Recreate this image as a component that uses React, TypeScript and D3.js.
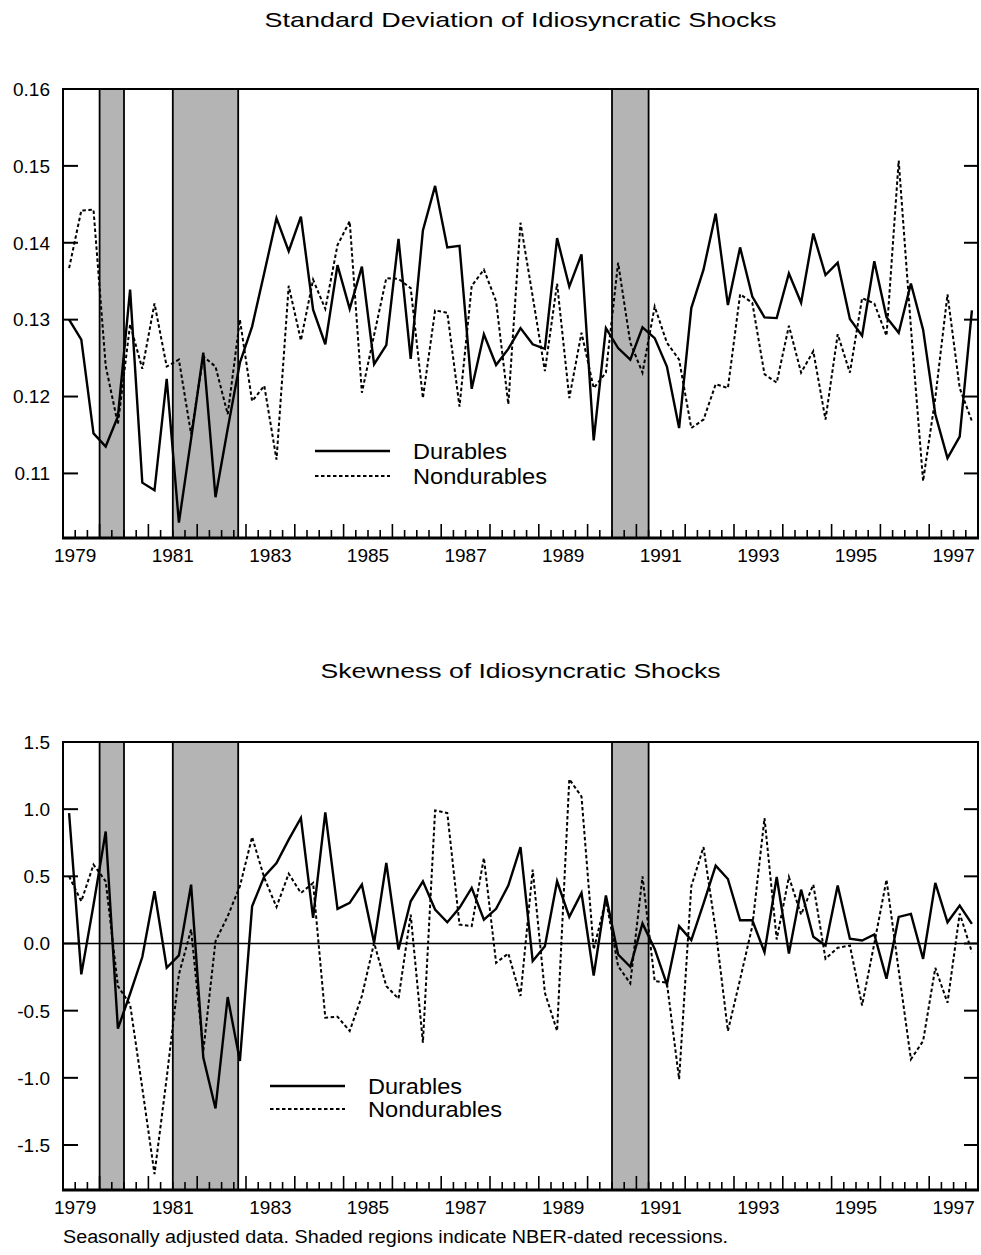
import React from 'react';
import * as d3 from 'd3';

// ---- Data (quarterly, 1979Q2 .. 1997Q4) ----
const FIRST_YEAR = 1979;
const FIRST_QUARTER = 2;

const sdDurables = [
  0.1300, 0.1274, 0.1152, 0.1135, 0.1174, 0.1339, 0.1088, 0.1078, 0.1223, 0.1036,
  0.1145, 0.1257, 0.1069, 0.1158, 0.1244, 0.1291, 0.1361, 0.1432, 0.1389, 0.1434,
  0.1313, 0.1268, 0.1371, 0.1314, 0.1369, 0.1242, 0.1267, 0.1405, 0.1249, 0.1416,
  0.1474, 0.1394, 0.1396, 0.1210, 0.1281, 0.1241, 0.1262, 0.1289, 0.1268, 0.1262,
  0.1406, 0.1343, 0.1385, 0.1143, 0.1289, 0.1263, 0.1248, 0.1290, 0.1276, 0.1239,
  0.1159, 0.1315, 0.1365, 0.1438, 0.1319, 0.1394, 0.1330, 0.1303, 0.1302, 0.1360,
  0.1322, 0.1412, 0.1358, 0.1374, 0.1301, 0.1279, 0.1376, 0.1303, 0.1283, 0.1347,
  0.1287, 0.1177, 0.1120, 0.1148, 0.1312,
];

const sdNondurables = [
  0.1367, 0.1442, 0.1443, 0.1240, 0.1164, 0.1294, 0.1236, 0.1321, 0.1239, 0.1248,
  0.1151, 0.1252, 0.1239, 0.1177, 0.1300, 0.1194, 0.1214, 0.1118, 0.1344, 0.1273,
  0.1352, 0.1314, 0.1397, 0.1428, 0.1205, 0.1280, 0.1354, 0.1353, 0.1341, 0.1198,
  0.1312, 0.1309, 0.1187, 0.1344, 0.1365, 0.1324, 0.1190, 0.1426, 0.1330, 0.1233,
  0.1347, 0.1198, 0.1283, 0.1211, 0.1231, 0.1374, 0.1270, 0.1231, 0.1317, 0.1270,
  0.1248, 0.1159, 0.1170, 0.1216, 0.1211, 0.1333, 0.1322, 0.1229, 0.1218, 0.1292,
  0.1231, 0.1259, 0.1170, 0.1281, 0.1231, 0.1328, 0.1321, 0.1279, 0.1507, 0.1290,
  0.1090, 0.1198, 0.1333, 0.1211, 0.1168,
];

const skDurables = [
  0.971, -0.230, 0.287, 0.834, -0.634, -0.374, -0.101, 0.389, -0.181, -0.089,
  0.438, -0.849, -1.228, -0.399, -0.874, 0.277, 0.500, 0.599, 0.773, 0.934,
  0.191, 0.976, 0.258, 0.302, 0.438, 0.005, 0.599, -0.045, 0.314, 0.463,
  0.253, 0.158, 0.265, 0.414, 0.178, 0.258, 0.431, 0.718, -0.131, -0.020,
  0.463, 0.198, 0.376, -0.238, 0.357, -0.082, -0.173, 0.149, -0.040, -0.305,
  0.129, 0.025, 0.297, 0.580, 0.480, 0.173, 0.173, -0.064, 0.495, -0.074,
  0.401, 0.050, -0.015, 0.431, 0.035, 0.022, 0.067, -0.262, 0.198, 0.220,
  -0.114, 0.451, 0.158, 0.282, 0.146,
];

const skNondurables = [
  0.500, 0.314, 0.587, 0.463, -0.317, -0.453, -1.077, -1.716, -1.000, -0.230,
  0.104, -0.800, 0.017, 0.203, 0.426, 0.793, 0.488, 0.272, 0.520, 0.376,
  0.451, -0.552, -0.545, -0.651, -0.391, 0.005, -0.317, -0.411, 0.215, -0.738,
  0.991, 0.971, 0.141, 0.129, 0.637, -0.144, -0.074, -0.391, 0.550, -0.367,
  -0.651, 1.223, 1.094, -0.045, 0.327, -0.168, -0.297, 0.500, -0.280, -0.292,
  -1.010, 0.426, 0.718, 0.100, -0.651, -0.267, 0.129, 0.934, 0.030, 0.495,
  0.215, 0.438, -0.114, -0.032, -0.015, -0.461, 0.000, 0.475, -0.200, -0.862,
  -0.726, -0.181, -0.441, 0.223, -0.064,
];

// NBER recessions (start, end) in fractional years
const recessionStarts = [1980.0, 1981.5, 1990.5];
const recessionEnds = [1980.5, 1982.84, 1991.25];

const yearLabels = [1979, 1981, 1983, 1985, 1987, 1989, 1991, 1993, 1995, 1997];
const sdTicks = [0.11, 0.12, 0.13, 0.14, 0.15, 0.16];
const skTicks = [-1.5, -1.0, -0.5, 0.0, 0.5, 1.0, 1.5];
const seriesNames = ['Durables', 'Nondurables'];

const titleSd = 'Standard Deviation of Idiosyncratic Shocks';
const titleSk = 'Skewness of Idiosyncratic Shocks';
const footnote = 'Seasonally adjusted data. Shaded regions indicate NBER-dated recessions.';

// quarter midpoints
const quarterTimes = d3.range(sdDurables.length).map(
  (i) => FIRST_YEAR + (FIRST_QUARTER - 1 + i) * 0.25 + 0.125
);

const FONT = '"Liberation Sans", Arial, Helvetica, sans-serif';
const X_DOMAIN: [number, number] = [1979.25, 1998.0];
const LEFT = 63;
const RIGHT = 978;

type PanelProps = {
  top: number;
  bottom: number;
  domain: [number, number];
  ticks: number[];
  fmt: (v: number) => string;
  durables: number[];
  nondurables: number[];
  zeroLine: boolean;
  legendX: number;
  legendY: number;
  legendGap: number;
  title: string;
  titleY: number;
  titleWidth: number;
};

function Panel(p: PanelProps) {
  const x = d3.scaleLinear().domain(X_DOMAIN).range([LEFT, RIGHT]);
  const y = d3.scaleLinear().domain(p.domain).range([p.bottom, p.top]);
  const line = d3
    .line<number>()
    .x((_, i) => x(quarterTimes[i]))
    .y((d) => y(d));

  const quarterTicks = d3
    .range(Math.ceil(X_DOMAIN[0] * 4 + 0.001), Math.floor(X_DOMAIN[1] * 4 - 0.001) + 1)
    .map((q) => q / 4);

  const h = p.bottom - p.top;
  return (
    <g>
      <text
        x={(LEFT + RIGHT) / 2}
        y={p.titleY}
        textAnchor="middle"
        fontFamily={FONT}
        fontSize={21}
        textLength={p.titleWidth}
        lengthAdjust="spacingAndGlyphs"
      >
        {p.title}
      </text>
      {/* recession shading */}
      {recessionStarts.map((s, i) => (
        <g key={'r' + i}>
          <rect x={x(s)} y={p.top} width={x(recessionEnds[i]) - x(s)} height={h} fill="#b4b4b4" />
          <line x1={x(s)} x2={x(s)} y1={p.top} y2={p.bottom} stroke="#000" strokeWidth={1.8} />
          <line
            x1={x(recessionEnds[i])}
            x2={x(recessionEnds[i])}
            y1={p.top}
            y2={p.bottom}
            stroke="#000"
            strokeWidth={1.8}
          />
        </g>
      ))}
      {p.zeroLine && (
        <line x1={LEFT} x2={RIGHT} y1={y(0)} y2={y(0)} stroke="#000" strokeWidth={1.3} />
      )}
      {/* y ticks both sides */}
      {p.ticks.map((t) => (
        <g key={'yt' + t}>
          <line x1={LEFT} x2={LEFT + 15} y1={y(t)} y2={y(t)} stroke="#000" strokeWidth={2} />
          <line x1={RIGHT - 14} x2={RIGHT} y1={y(t)} y2={y(t)} stroke="#000" strokeWidth={2} />
          <text
            x={50}
            y={y(t)}
            dy="0.36em"
            textAnchor="end"
            fontFamily={FONT}
            fontSize={19}
          >
            {p.fmt(t)}
          </text>
        </g>
      ))}
      {/* x ticks */}
      {quarterTicks.map((q) => {
        const major = Math.abs(q - Math.round(q)) < 1e-6;
        return (
          <line
            key={'xt' + q}
            x1={x(q)}
            x2={x(q)}
            y1={p.bottom}
            y2={p.bottom - (major ? 14 : 8)}
            stroke="#000"
            strokeWidth={1.6}
          />
        );
      })}
      {yearLabels.map((yr) => (
        <text
          key={'xl' + yr}
          x={x(yr + 0.5)}
          y={p.bottom + 24}
          textAnchor="middle"
          fontFamily={FONT}
          fontSize={19}
        >
          {yr}
        </text>
      ))}
      {/* series */}
      <path d={line(p.nondurables) || ''} fill="none" stroke="#000" strokeWidth={2} strokeDasharray="3.5,2.5" />
      <path d={line(p.durables) || ''} fill="none" stroke="#000" strokeWidth={2.4} strokeLinejoin="miter" />
      {/* frame */}
      <rect x={LEFT} y={p.top} width={RIGHT - LEFT} height={h} fill="none" stroke="#000" strokeWidth={2} />
      <line x1={LEFT - 1} x2={RIGHT + 1} y1={p.bottom} y2={p.bottom} stroke="#000" strokeWidth={3} />
      {/* legend */}
      <line
        x1={p.legendX}
        x2={p.legendX + 75}
        y1={p.legendY}
        y2={p.legendY}
        stroke="#000"
        strokeWidth={2.4}
      />
      <line
        x1={p.legendX}
        x2={p.legendX + 75}
        y1={p.legendY + p.legendGap}
        y2={p.legendY + p.legendGap}
        stroke="#000"
        strokeWidth={2}
        strokeDasharray="3.5,2.5"
      />
      <text x={p.legendX + 98} y={p.legendY} dy="0.36em" fontFamily={FONT} fontSize={22} textLength={94} lengthAdjust="spacingAndGlyphs">
        {seriesNames[0]}
      </text>
      <text
        x={p.legendX + 98}
        y={p.legendY + p.legendGap}
        dy="0.36em"
        fontFamily={FONT}
        fontSize={22}
        textLength={134}
        lengthAdjust="spacingAndGlyphs"
      >
        {seriesNames[1]}
      </text>
    </g>
  );
}

export default function App() {
  return (
    <svg
      width={981}
      height={1255}
      viewBox="0 0 981 1255"
      style={{ position: 'absolute', left: 0, top: 0, background: '#fff' }}
    >
      <rect x={0} y={0} width={981} height={1255} fill="#fff" />
      <Panel
        top={89}
        bottom={538}
        domain={[0.1016, 0.16]}
        ticks={sdTicks}
        fmt={(v) => d3.format('.2f')(v)}
        durables={sdDurables}
        nondurables={sdNondurables}
        zeroLine={false}
        legendX={315}
        legendY={451}
        legendGap={25}
        title={titleSd}
        titleY={27}
        titleWidth={512}
      />
      <Panel
        top={742}
        bottom={1190}
        domain={[-1.835, 1.5]}
        ticks={skTicks}
        fmt={(v) => d3.format('.1f')(v).replace('−', '-')}
        durables={skDurables}
        nondurables={skNondurables}
        zeroLine={true}
        legendX={270}
        legendY={1086}
        legendGap={23}
        title={titleSk}
        titleY={678}
        titleWidth={400}
      />
      <text x={63} y={1243} fontFamily={FONT} fontSize={18} textLength={665} lengthAdjust="spacingAndGlyphs">
        {footnote}
      </text>
    </svg>
  );
}
